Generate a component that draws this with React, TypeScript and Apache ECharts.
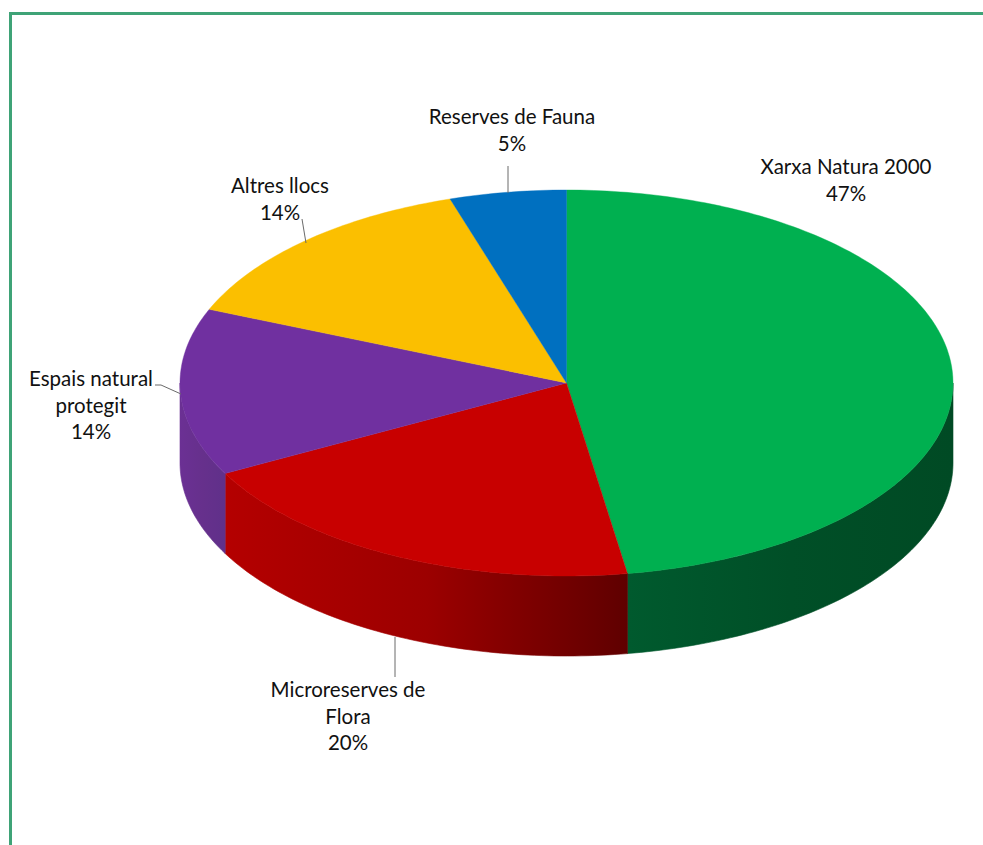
import React, { useEffect, useRef } from "react";
import * as echarts from "echarts";

const categories = [
  "Xarxa Natura 2000",
  "Microreserves de\nFlora",
  "Espais natural\nprotegit",
  "Altres llocs",
  "Reserves de Fauna",
];
const values = [47.48, 19.75, 14.0, 13.9, 4.87];

const topColors = ["#00b050", "#c80000", "#7030a0", "#fbbf00", "#0070c0"];
const sideStops = [
  ["#005a2e", "#004f27", "#004a24"],
  ["#b40000", "#9c0000", "#5f0000"],
  ["#6b3094", "#66308c", "#60308a"],
  ["#000000", "#000000", "#000000"],
  ["#000000", "#000000", "#000000"],
];

const pie = { cx: 566.5, cy: 383, rx: 386.5, ry: 193, depth: 80 };
const labelBoxes = [
  { x: 846, y: 166 },
  { x: 348, y: 689 },
  { x: 91, y: 378 },
  { x: 280, y: 185 },
  { x: 512, y: 116 },
];
const leaders = [
  [],
  [[395, 637], [395, 677]],
  [[155, 385], [161, 385], [181, 394]],
  [[302, 219], [306, 243]],
  [[508, 166], [508, 193]],
];

const total = values.reduce((a, b) => a + b, 0);
const cumulative = values.map((_, i) =>
  values.slice(0, i).reduce((a, b) => a + b, 0)
);
const edge = (t: number, dy = 0) => [
  pie.cx + pie.rx * Math.sin(t),
  pie.cy - pie.ry * Math.cos(t) + dy,
];
const arc = (a: number, b: number, dy = 0) => {
  const n = Math.max(2, Math.ceil(((b - a) / (2 * Math.PI)) * 360));
  const out: number[][] = [];
  for (let k = 0; k <= n; k++) out.push(edge(a + ((b - a) * k) / n, dy));
  return out;
};

const renderItem = (params: any, api: any) => {
  const i = params.dataIndex;
  const v = api.value(0);
  const t0 = (cumulative[i] / total) * 2 * Math.PI;
  const t1 = t0 + (v / total) * 2 * Math.PI;
  const children: any[] = [];

  const sa = Math.max(t0, Math.PI / 2);
  const sb = Math.min(t1, (3 * Math.PI) / 2);
  if (sb > sa) {
    const stops = sideStops[i];
    const grad = () =>
      new echarts.graphic.LinearGradient(0, 0, 1, 0, [
        { offset: 0, color: stops[0] },
        { offset: 0.5, color: stops[1] },
        { offset: 1, color: stops[2] },
      ]);
    children.push({
      type: "polygon",
      shape: { points: [...arc(sa, sb), ...arc(sa, sb, pie.depth).reverse()] },
      style: { fill: grad(), stroke: grad(), lineWidth: 0.6 },
    });
  }
  children.push({
    type: "polygon",
    shape: { points: [[pie.cx, pie.cy], ...arc(t0, t1)] },
    style: { fill: topColors[i], stroke: topColors[i], lineWidth: 0.4 },
  });
  if (leaders[i].length) {
    children.push({
      type: "polyline",
      shape: { points: leaders[i] },
      style: { fill: null, stroke: "#6a6a6a", lineWidth: 1 },
    });
  }
  children.push({
    type: "text",
    style: {
      text: `${categories[i]}\n${Math.round(v)}%`,
      x: labelBoxes[i].x,
      y: labelBoxes[i].y - 13,
      align: "center",
      verticalAlign: "top",
      fill: "#111111",
      fontFamily: "Lato",
      fontSize: 20.5,
      lineHeight: 26.5,
    },
  });
  return { type: "group", children };
};

export default function App() {
  const ref = useRef<HTMLDivElement>(null);
  useEffect(() => {
    const chart = echarts.init(ref.current!, null, { renderer: "svg" });
    chart.setOption({
      animation: false,
      backgroundColor: "#ffffff",
      graphic: [
        {
          type: "polyline",
          silent: true,
          shape: { points: [[10.5, 845], [10.5, 13.5], [983, 13.5]] },
          style: { fill: null, stroke: "#3fa377", lineWidth: 3 },
        },
      ],
      series: [
        {
          type: "custom",
          coordinateSystem: "none",
          renderItem,
          data: values.map((v, i) => ({ name: categories[i], value: [v] })),
        },
      ],
    });
    return () => chart.dispose();
  }, []);
  return (
    <div
      ref={ref}
      style={{ position: "absolute", left: 0, top: 0, width: 983, height: 845 }}
    />
  );
}
